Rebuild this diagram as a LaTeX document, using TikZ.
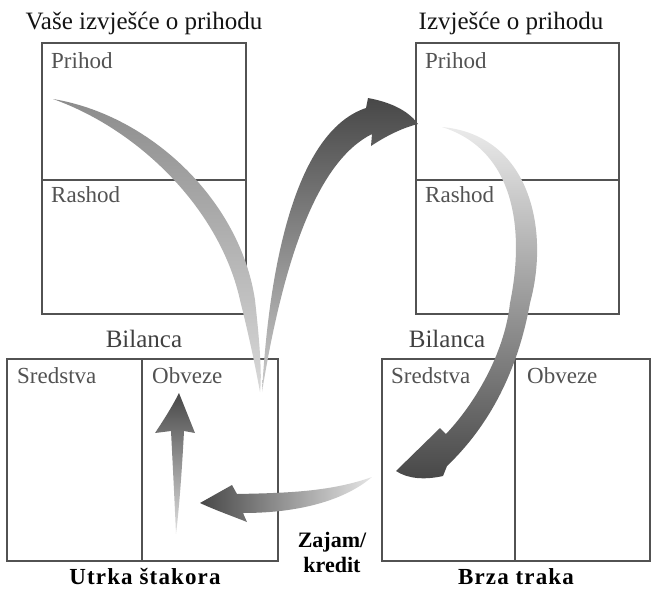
\documentclass[tikz,border=0pt]{standalone}
\usepackage{fontspec}
\setmainfont{Liberation Serif}
\begin{document}
\begin{tikzpicture}[x=1pt,y=-1pt,
  box/.style={draw=black!68, line width=1.6pt},
  lbl/.style={anchor=base west, inner sep=0pt, text=black!68, font=\fontsize{23}{27}\selectfont},
  ttl/.style={anchor=base, inner sep=0pt, text=black!92, font=\fontsize{25}{29}\selectfont},
  bil/.style={anchor=base, inner sep=0pt, text=black!75, font=\fontsize{25}{29}\selectfont},
  bld/.style={anchor=base, inner sep=0pt, text=black, font=\fontsize{23}{27}\selectfont\bfseries\addfontfeatures{LetterSpace=5}},
  bldz/.style={anchor=base, inner sep=0pt, text=black, font=\fontsize{22}{26}\selectfont\bfseries},
]
\useasboundingbox (0,0) rectangle (651,590);

% boxes
\draw[box] (42,43) rectangle (246,314);
\draw[box] (42,180) -- (246,180);
\draw[box] (416,43) rectangle (619,314);
\draw[box] (416,180) -- (619,180);
\draw[box] (7,359) rectangle (278,561);
\draw[box] (142,359) -- (142,561);
\draw[box] (382,359) rectangle (650,561);
\draw[box] (515,359) -- (515,561);

% texts
\node[ttl] (t1) at (144,29) {Vaše izvješće o prihodu};
\node[ttl] (t2) at (511,29) {Izvješće o prihodu};
\node[lbl] (p1) at (51,68) {Prihod};
\node[lbl] (r1) at (51,202) {Rashod};
\node[lbl] (p2) at (425,68) {Prihod};
\node[lbl] (r2) at (425,202) {Rashod};
\node[bil] (b1) at (144,347) {Bilanca};
\node[bil] (b2) at (447,347) {Bilanca};
\node[lbl] (s1) at (17,383) {Sredstva};
\node[lbl] (o1) at (152,383) {Obveze};
\node[lbl] (s2) at (391,383) {Sredstva};
\node[lbl] (o2) at (527,383) {Obveze};
\node[bld] (u) at (145,584) {Utrka štakora};
\node[bld] (bt) at (516,584) {Brza traka};
\node[bldz] (z1) at (332,547) {Zajam/};
\node[bldz] (z2) at (332,572) {kredit};

% arrow A (light, from income down to liabilities)
\shade[top color=black!45, bottom color=black!15]
  (53,99) .. controls (150,115) and (240,200) .. (255,300)
  .. controls (260,345) and (262,375) .. (260,392)
  .. controls (256,370) and (250,340) .. (240,300)
  .. controls (220,210) and (140,130) .. (53,99) -- cycle;

% arrow B (dark, rising to right income statement)
\shade[top color=black!72, bottom color=black!20]
  (262,392) .. controls (270,250) and (300,130) .. (366,108)
  -- (368,98) .. controls (395,103) and (410,113) .. (418,124)
  .. controls (402,128) and (386,136) .. (371,146)
  -- (372,134) .. controls (320,160) and (285,250) .. (262,392) -- cycle;

% arrow C (right, down into assets)
\shade[top color=black!8, bottom color=black!72]
  (442,127) .. controls (530,135) and (550,230) .. (530,303)
  .. controls (518,370) and (490,425) .. (447,466)
  -- (443,476) .. controls (425,480) and (408,479) .. (396,471)
  -- (440,428) -- (446,434)
  .. controls (478,400) and (505,350) .. (510,303)
  .. controls (525,230) and (515,150) .. (442,127) -- cycle;

% arrow D (loan, to the left)
\shade[left color=black!72, right color=black!10]
  (372,477) .. controls (330,492) and (285,493) .. (237,494)
  -- (232,485) -- (200,503)
  .. controls (215,510) and (232,516) .. (247,522)
  -- (243,513) .. controls (300,513) and (345,500) .. (372,477) -- cycle;

% arrow E (up in liabilities)
\shade[top color=black!72, bottom color=black!12]
  (179,393) -- (195,433) -- (184,431)
  .. controls (182,470) and (179,510) .. (176,534)
  .. controls (175,510) and (173,470) .. (171,431)
  -- (155,433) .. controls (165,418) and (173,405) .. (179,393) -- cycle;
\end{tikzpicture}
\end{document}
